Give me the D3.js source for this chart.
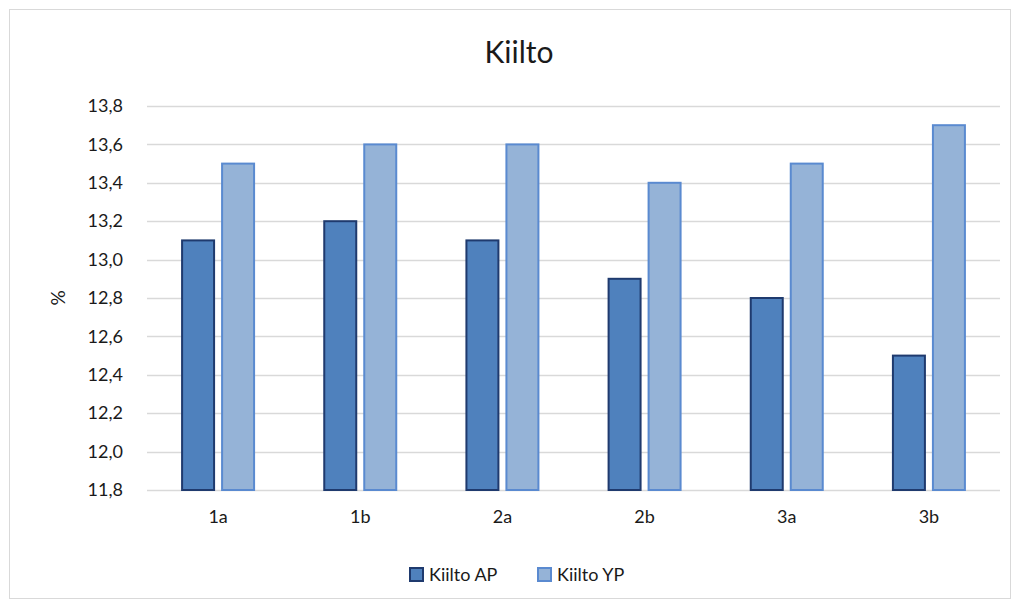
<!DOCTYPE html>
<html>
<head>
<meta charset="utf-8">
<script src="https://cdn.jsdelivr.net/npm/d3@7"></script>
<style>
  html, body { margin: 0; padding: 0; background: #fff; }
  svg { display: block; }
  text { font-family: "Lato", "Liberation Sans", sans-serif; fill: #1a1a1a; }
</style>
</head>
<body>
<svg id="chart" width="1020" height="608"></svg>
<script>
// Gloss measurements per sample
const categories = ["1a", "1b", "2a", "2b", "3a", "3b"];
const seriesNames = ["Kiilto AP", "Kiilto YP"];
const kiiltoAP = [13.1, 13.2, 13.1, 12.9, 12.8, 12.5];
const kiiltoYP = [13.5, 13.6, 13.6, 13.4, 13.5, 13.7];
const yTicks = [11.8, 12.0, 12.2, 12.4, 12.6, 12.8, 13.0, 13.2, 13.4, 13.6, 13.8];

const fills = ["#4F81BD", "#95B3D7"];
const strokes = ["#1F3A6E", "#5A8AD0"];

const svg = d3.select("#chart");
const W = 1020, H = 608;
const plot = { left: 147, right: 1000, top: 106, bottom: 490 };
const font = "Lato, 'Liberation Sans', sans-serif";

// Outer chart frame
svg.append("rect")
  .attr("x", 9.5).attr("y", 9.5)
  .attr("width", W - 19).attr("height", H - 19)
  .attr("fill", "#fff").attr("stroke", "#d9d9d9").attr("stroke-width", 1);

const x = d3.scaleBand().domain(categories).range([plot.left, plot.right]);
const y = d3.scaleLinear().domain([11.8, 13.8]).range([plot.bottom, plot.top]);

// Gridlines
svg.append("g").selectAll("line").data(yTicks).join("line")
  .attr("x1", plot.left).attr("x2", plot.right)
  .attr("y1", d => Math.round(y(d)) + 0.5).attr("y2", d => Math.round(y(d)) + 0.5)
  .attr("stroke", "#d9d9d9").attr("stroke-width", 1.3);

// Y axis tick labels
const fmt = d => d3.format(".1f")(d).replace(".", ",");
const yAxis = d3.axisLeft(y).tickValues(yTicks).tickFormat(fmt).tickSize(0).tickPadding(24);
const gy = svg.append("g").attr("transform", `translate(${plot.left},0)`).call(yAxis);
gy.select(".domain").remove();
gy.selectAll("text").attr("font-size", 18).attr("fill", "#1a1a1a").style("font-family", font);

// X axis category labels
const xAxis = d3.axisBottom(x).tickSize(0).tickPadding(20);
const gx = svg.append("g").attr("transform", `translate(0,${plot.bottom})`).call(xAxis);
gx.select(".domain").remove();
gx.selectAll("text").attr("font-size", 18).attr("fill", "#1a1a1a").style("font-family", font);

// Bars
const barW = 32, gap = 8;
const series = [kiiltoAP, kiiltoYP];
series.forEach((vals, si) => {
  svg.append("g").selectAll("rect").data(vals).join("rect")
    .attr("x", (d, i) => x(categories[i]) + x.bandwidth() / 2 + (si === 0 ? -(barW + gap / 2) : gap / 2))
    .attr("y", d => y(d))
    .attr("width", barW)
    .attr("height", d => y(11.8) - y(d))
    .attr("fill", fills[si])
    .attr("stroke", strokes[si])
    .attr("stroke-width", 2);
});

// Title
svg.append("text")
  .attr("x", 519).attr("y", 63)
  .attr("text-anchor", "middle")
  .attr("font-size", 30)
  .text("Kiilto");

// Y axis title
svg.append("text")
  .attr("transform", "translate(65,298) rotate(-90)")
  .attr("text-anchor", "middle")
  .attr("font-size", 19)
  .text("%");

// Legend
const legend = svg.append("g");
const legendItems = [{ x: 410, name: seriesNames[0] }, { x: 538, name: seriesNames[1] }];
legendItems.forEach((it, i) => {
  legend.append("rect")
    .attr("x", it.x).attr("y", 568)
    .attr("width", 13).attr("height", 13)
    .attr("fill", fills[i]).attr("stroke", strokes[i]).attr("stroke-width", 2);
  legend.append("text")
    .attr("x", it.x + 19).attr("y", 581)
    .attr("font-size", 18)
    .text(it.name);
});
</script>
</body>
</html>
